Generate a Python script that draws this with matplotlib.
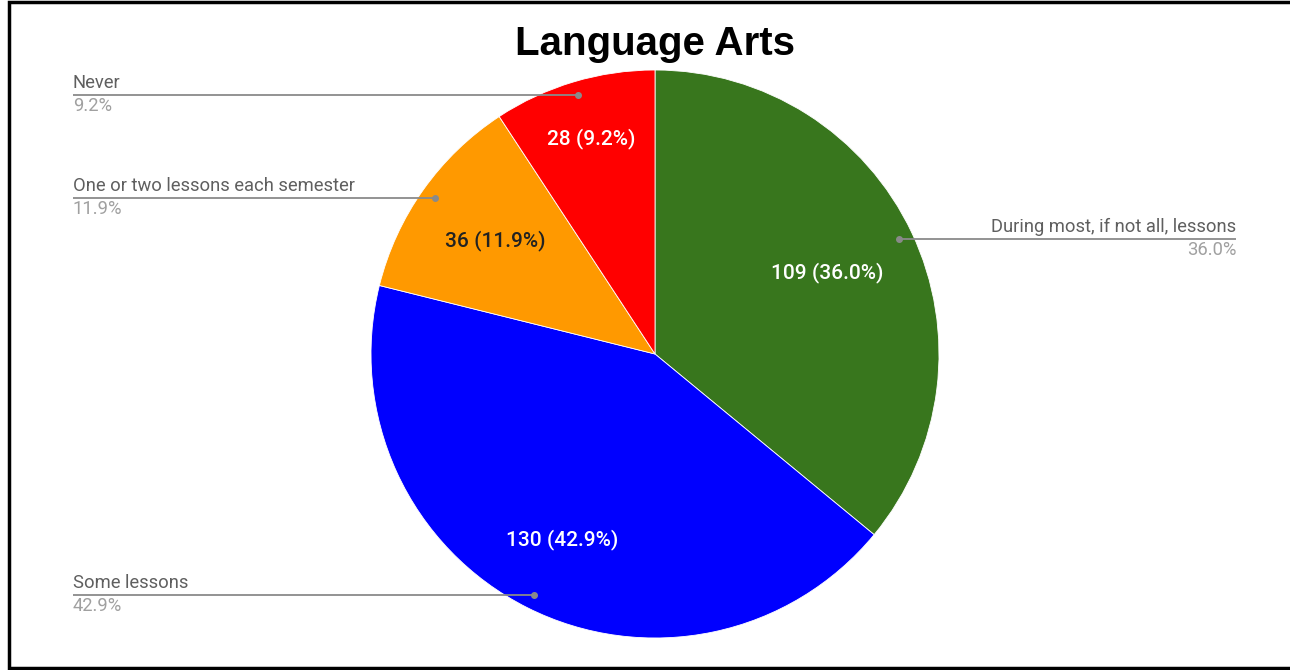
import numpy as np
import matplotlib
matplotlib.use("Agg")
from matplotlib import pyplot as plt

# data
categories = ["During most, if not all, lessons", "Some lessons",
              "One or two lessons each semester", "Never"]
counts = [109, 130, 36, 28]
colors = ["#38761d", "#0000ff", "#ff9900", "#ff0000"]
inner_colors = ["white", "white", "#222222", "white"]
inner_dist = [0.67, 0.73, 0.69, 0.79]
title = "Language Arts"

W, H = 1290, 670
fig = plt.figure(figsize=(W / 100, H / 100), dpi=100)
ax = fig.add_axes([0, 0, 1, 1])
plt.rcParams['font.family'] = ['Roboto', 'DejaVu Sans']

cx, cy, R = 655, H - 354, 284
total = sum(counts)
pcts = [100.0 * c / total for c in counts]

wedges, _ = ax.pie(counts, colors=colors, startangle=90, counterclock=False,
                   center=(cx, cy), radius=R, frame=True,
                   wedgeprops=dict(edgecolor="white", linewidth=0.6))

left_x, right_x = 73, 1236
for i, w in enumerate(wedges):
    ang = np.deg2rad((w.theta1 + w.theta2) / 2)
    # value label inside the slice
    d = inner_dist[i] * R
    ax.text(cx + d * np.cos(ang), cy + d * np.sin(ang),
            "%d (%.1f%%)" % (counts[i], pcts[i]),
            ha="center", va="center", fontsize=15, fontweight="medium",
            color=inner_colors[i])
    # leader line to the side label
    px, py = cx + 0.95 * R * np.cos(ang), cy + 0.95 * R * np.sin(ang)
    tx = right_x if np.cos(ang) > 0 else left_x
    ha = "right" if np.cos(ang) > 0 else "left"
    ax.plot([px, tx], [py, py], color="#8a8a8a", lw=1.3, solid_capstyle="butt")
    ax.plot(px, py, "o", color="#8a8a8a", ms=4)
    ax.text(tx, py + 3, categories[i], ha=ha, va="bottom", fontsize=13.2,
            color="#5f5f5f")
    ax.text(tx, py - 2, "%.1f%%" % pcts[i], ha=ha, va="top", fontsize=13.2,
            color="#a0a0a0")

ax.text(cx, H - 44, title, ha="center", va="center", fontsize=29,
        fontweight="bold", family=["Liberation Sans", "DejaVu Sans"])

# open black frame (left, top, bottom)
ax.plot([W, 9, 9, W], [H - 2, H - 2, 2, 2], color="black", lw=2.5,
        solid_joinstyle="miter")

ax.set_xlim(0, W)
ax.set_ylim(0, H)
ax.axis("off")
fig.savefig("out.png", dpi=100)
